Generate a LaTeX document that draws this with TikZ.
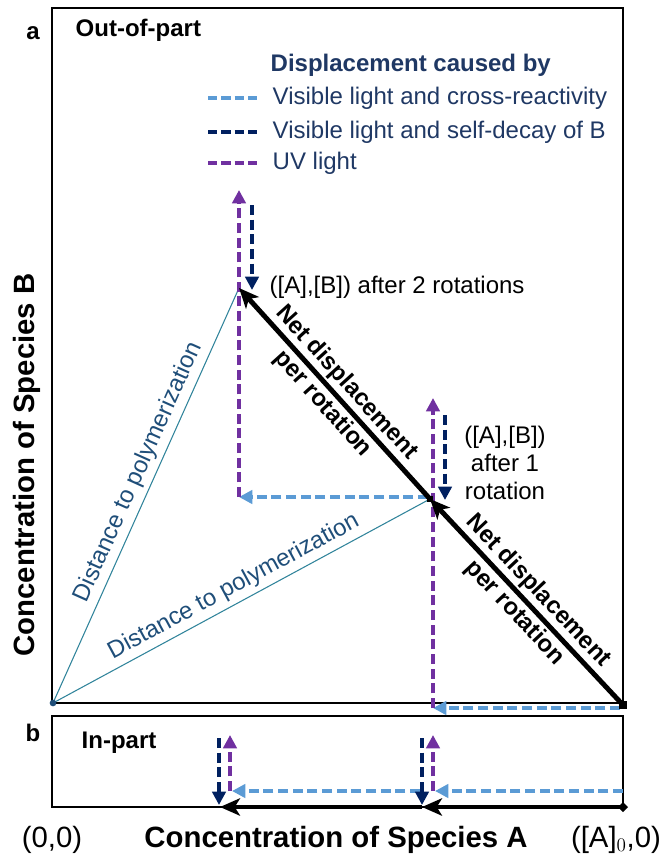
\documentclass[tikz,border=0pt]{standalone}
\usepackage{fontspec}
\setmainfont{Liberation Sans}
\usetikzlibrary{arrows.meta,positioning}
\definecolor{visblue}{RGB}{91,155,213}
\definecolor{decaynavy}{RGB}{0,32,96}
\definecolor{uvpurple}{RGB}{112,48,160}
\definecolor{distteal}{RGB}{49,132,155}
\definecolor{disttext}{RGB}{31,78,121}
\definecolor{txtnavy}{RGB}{31,56,100}

\begin{document}
\begin{tikzpicture}[
  x=0.75pt, y=0.75pt,
  lbl/.style={font=\fontsize{18}{21}\selectfont},
  blbl/.style={font=\fontsize{18}{21}\selectfont\bfseries},
  axlbl/.style={font=\fontsize{22}{26}\selectfont\bfseries},
  panel/.style={draw, line width=1.5pt},
  net/.style={line width=3.7pt, -{Stealth[length=15pt,width=13pt,inset=4pt]}},
  netlbl/.style={font=\fontsize{18}{24}\selectfont\bfseries, align=center, midway, sloped},
  dsh/.style={line width=2.6pt, dash pattern=on 7.5pt off 3.5pt, -{Triangle[length=10pt,width=10pt]}},
  cross/.style={dsh, visblue},
  decay/.style={dsh, decaynavy},
  uv/.style={dsh, uvpurple},
  legline/.style={line width=2.6pt, dash pattern=on 7pt off 3pt},
  dist/.style={distteal, line width=0.8pt},
  distlbl/.style={lbl, disttext, sloped, above}
]
  \useasboundingbox (0,0) rectangle (667,-857);

  \draw[panel] (52,-8) rectangle (623,-703);
  \draw[panel] (52,-716) rectangle (623,-807);

  \node[blbl] (lblA) at (33,-33) {a};
  \node[blbl, anchor=west] (outpart) at (71,-30) {Out-of-part};
  \node[blbl] (lblB) at (33,-733) {b};
  \node[blbl, anchor=west] (inpart) at (77,-743) {In-part};

  \node[blbl, txtnavy, anchor=west] (leghead) at (266,-65) {Displacement caused by};
  \coordinate (lg1a) at (208,-98);  \coordinate (lg1b) at (258,-98);
  \coordinate (lg2a) at (208,-132); \coordinate (lg2b) at (258,-132);
  \coordinate (lg3a) at (208,-163); \coordinate (lg3b) at (258,-163);
  \draw[legline, visblue] (lg1a) -- (lg1b);
  \draw[legline, decaynavy] (lg2a) -- (lg2b);
  \draw[legline, uvpurple] (lg3a) -- (lg3b);
  \node[lbl, txtnavy, anchor=west] (leg1) at (268,-98) {Visible light and cross-reactivity};
  \node[lbl, txtnavy, anchor=west] (leg2) at (268,-132) {Visible light and self-decay of B};
  \node[lbl, txtnavy, anchor=west] (leg3) at (268,-163) {UV light};

  \coordinate (O) at (53,-703);
  \coordinate (P0) at (623,-705);
  \coordinate (P1) at (430,-499);
  \coordinate (P2) at (239,-288);

  \draw[dist] (O) -- (P2) node[distlbl, pos=0.54] {Distance to polymerization};
  \draw[dist] (O) -- (P1) node[distlbl, midway] {Distance to polymerization};
  \fill[disttext] (O) circle (2.5pt);

  \coordinate (x0) at (620,-708);
  \coordinate (u0) at (433,-708);
  \coordinate (u0top) at (433,-398);
  \coordinate (d0) at (445,-415);
  \coordinate (d0end) at (445,-500);
  \coordinate (x1) at (428,-497);
  \coordinate (u1) at (239,-497);
  \coordinate (u1top) at (239,-190);
  \coordinate (d1) at (252,-205);
  \coordinate (d1end) at (252,-290);

  \draw[cross] (x0) -- (u0);
  \draw[uv] (u0) -- (u0top);
  \draw[decay] (d0) -- (d0end);
  \draw[cross] (x1) -- (u1);
  \draw[uv] (u1) -- (u1top);
  \draw[decay] (d1) -- (d1end);

  \draw[net] (P0) -- (P1) node[netlbl] {Net displacement\\per rotation};
  \draw[net] (P1) -- (P2) node[netlbl] {Net displacement\\per rotation};
  \fill (P1) ++(-3,-3) rectangle ++(6,6);
  \fill (P0) ++(-4,-4) rectangle ++(8,8);

  \node[lbl, anchor=west] (after2) at (265,-287) {([A],[B]) after 2 rotations};
  \node[lbl, align=center] (after1) at (505,-463) {([A],[B])\\after 1\\rotation};

  \coordinate (Q0) at (623,-807);
  \coordinate (Q1) at (422,-807);
  \coordinate (Q2) at (220,-807);
  \coordinate (b0s) at (623,-791);
  \coordinate (b0e) at (435,-791);
  \coordinate (b1s) at (420,-791);
  \coordinate (b1e) at (232,-791);
  \coordinate (bu0) at (433,-791);
  \coordinate (bu0top) at (433,-735);
  \coordinate (bu1) at (230,-791);
  \coordinate (bu1top) at (230,-735);
  \coordinate (bd0) at (422,-738);
  \coordinate (bd0end) at (422,-805);
  \coordinate (bd1) at (219,-738);
  \coordinate (bd1end) at (219,-805);

  \draw[net] (Q0) -- (Q1);
  \draw[net] (Q1) -- (Q2);
  \fill (Q0) ++(-5,0) -- ++(5,5) -- ++(5,-5) -- ++(-5,-5) -- cycle;
  \draw[cross] (b0s) -- (b0e);
  \draw[cross] (b1s) -- (b1e);
  \draw[uv] (bu0) -- (bu0top);
  \draw[uv] (bu1) -- (bu1top);
  \draw[decay] (bd0) -- (bd0end);
  \draw[decay] (bd1) -- (bd1end);

  \node[axlbl, rotate=90] (ylab) at (27,-465) {Concentration of Species B};
  \node[axlbl] (xlab) at (336,-840) {Concentration of Species A};
  \node[font=\fontsize{22}{26}\selectfont] (orig) at (52,-840) {(0,0)};
  \node[font=\fontsize{22}{26}\selectfont] (aend) at (616,-840) {([A]$_0$,0)};
\end{tikzpicture}
\end{document}
